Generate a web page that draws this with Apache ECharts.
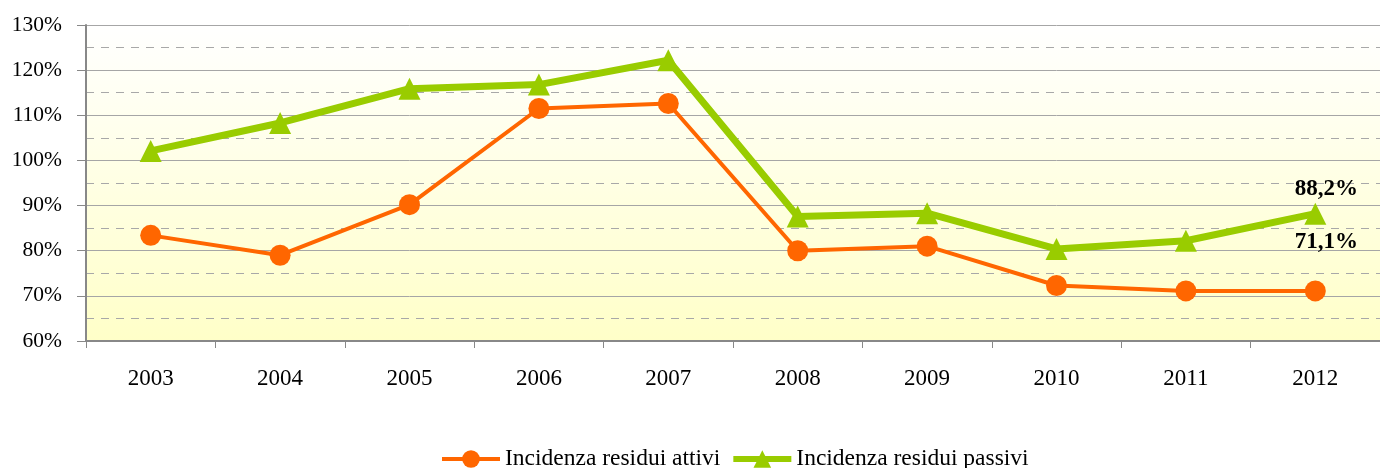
<!DOCTYPE html>
<html>
<head>
<meta charset="utf-8">
<script src="https://cdn.jsdelivr.net/npm/echarts@6/dist/echarts.min.js"></script>
<style>
html,body{margin:0;padding:0;background:#fff;}
#c{width:1380px;height:468px;}
</style>
</head>
<body>
<div id="c"></div>
<script>
const categories = ['2003','2004','2005','2006','2007','2008','2009','2010','2011','2012'];
const seriesNames = ['Incidenza residui attivi','Incidenza residui passivi'];
const attivi = [83.4, 79.0, 90.2, 111.5, 112.6, 80.0, 81.0, 72.3, 71.1, 71.1];
const passivi = [102.1, 108.3, 115.9, 116.8, 122.2, 87.6, 88.3, 80.4, 82.2, 88.2];
const yMin = 60, yMax = 130, yStep = 10;

const FONT = '"Liberation Serif","Times New Roman",serif';
function fmt(v){ return v.toFixed(1).replace('.', ',') + '%'; }
function withLastLabel(arr, dist){
  return arr.map((v, i) => i === arr.length - 1 ? {
    value: v,
    label: {show: true, position: 'top', distance: dist, offset: [11, 0],
      formatter: p => fmt(p.value), fontFamily: FONT, fontSize: 23, fontWeight: 'bold', color: '#000'}
  } : v);
}

const chart = echarts.init(document.getElementById('c'), null, {renderer: 'canvas'});
chart.setOption({
  animation: false,
  grid: {
    left: 86, top: 25, width: 1300, height: 316,
    show: true, borderWidth: 0,
    backgroundColor: {type: 'linear', x: 0, y: 0, x2: 0, y2: 1,
      colorStops: [{offset: 0, color: '#FFFFFF'}, {offset: 1, color: '#FFFFC8'}]}
  },
  legend: {
    left: 435, top: 442,
    itemWidth: 58, itemHeight: 22, itemGap: 10,
    textStyle: {fontFamily: FONT, fontSize: 23.5, color: '#000'},
    data: [
      {name: seriesNames[0], lineStyle: {width: 4}},
      {name: seriesNames[1], lineStyle: {width: 6}}
    ]
  },
  xAxis: {
    type: 'category', data: categories, boundaryGap: true,
    axisLine: {lineStyle: {color: '#888888', width: 2}},
    axisTick: {show: true, length: 7, lineStyle: {color: '#888888', width: 1}},
    axisLabel: {margin: 26, fontFamily: FONT, fontSize: 23, color: '#000'}
  },
  yAxis: {
    type: 'value', min: yMin, max: yMax, interval: yStep,
    axisLine: {show: true, lineStyle: {color: '#888888', width: 2}},
    axisTick: {show: true, length: 9, lineStyle: {color: '#888888', width: 1}},
    axisLabel: {margin: 24, formatter: '{value}%', fontFamily: FONT, fontSize: 21.5, color: '#000'},
    splitLine: {show: true, lineStyle: {color: '#A6A6A6', width: 1}},
    minorTick: {show: false, splitNumber: 2},
    minorSplitLine: {show: true, lineStyle: {color: '#A8A8A8', width: 1, type: [8, 7]}}
  },
  series: [
    {
      name: seriesNames[0], type: 'line', data: withLastLabel(attivi, 27),
      symbol: 'circle', symbolSize: 21,
      lineStyle: {color: '#FF6600', width: 4},
      itemStyle: {color: '#FF6600'}, z: 3
    },
    {
      name: seriesNames[1], type: 'line', data: withLastLabel(passivi, 2),
      symbol: 'triangle', symbolSize: 22,
      lineStyle: {color: '#99CC00', width: 7},
      itemStyle: {color: '#99CC00'}, z: 2
    }
  ]
});
</script>
</body>
</html>
